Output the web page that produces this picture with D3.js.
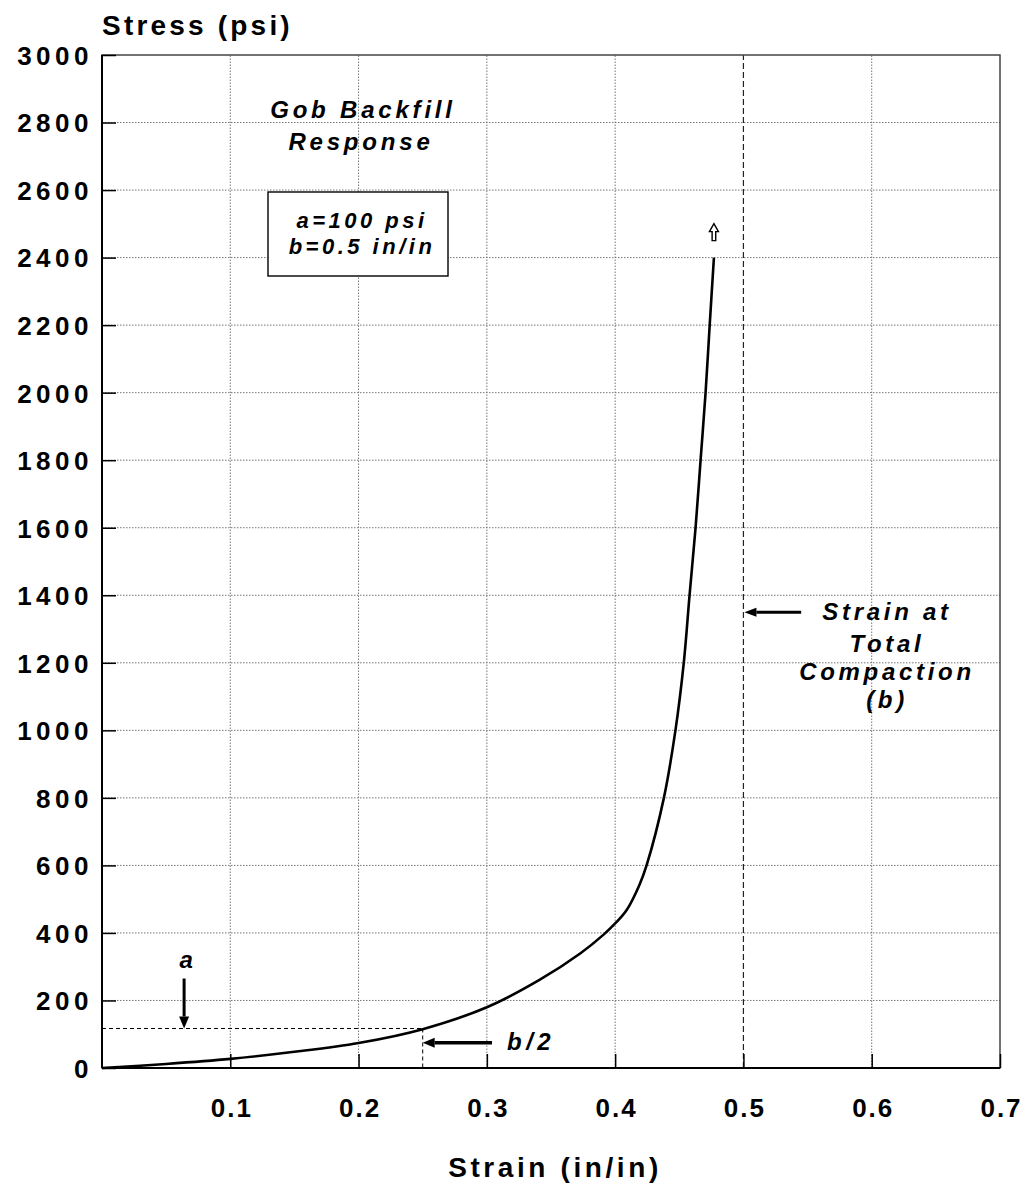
<!DOCTYPE html>
<html>
<head>
<meta charset="utf-8">
<script src="https://cdn.jsdelivr.net/npm/d3@7"></script>
<style>
  html, body { margin: 0; padding: 0; background: #fff; }
  svg { display: block; }
  .lbl { font-family: "Liberation Sans", Arial, sans-serif; font-weight: bold; fill: #000; }
  .note { font-family: "Liberation Sans", Arial, sans-serif; font-weight: bold; font-style: italic; fill: #000; }
</style>
</head>
<body>
<script>
// Gob backfill stress-strain response
const strain = [0, 0.05, 0.1, 0.15, 0.2, 0.25, 0.3, 0.341, 0.373, 0.391, 0.4, 0.409, 0.419, 0.4245, 0.438, 0.447, 0.4535, 0.458, 0.4627, 0.4666, 0.4705, 0.4737, 0.477];
const stress = [0, 12, 27, 48, 74, 115, 180, 261, 340, 395, 428, 468, 543, 600, 800, 1000, 1200, 1400, 1600, 1800, 2000, 2200, 2400];

const xTicks = [0.1, 0.2, 0.3, 0.4, 0.5, 0.6, 0.7];
const yTicks = [0, 200, 400, 600, 800, 1000, 1200, 1400, 1600, 1800, 2000, 2200, 2400, 2600, 2800, 3000];

// model parameters and reference levels
const paramA = 100;        // psi
const paramB = 0.5;        // in/in, strain at total compaction
const halfB = 0.25;        // b/2
const levelAtHalfB = 117;  // stress on the curve at b/2

const W = 1027, H = 1188;
const svg = d3.select("body").append("svg").attr("width", W).attr("height", H);

const x = d3.scaleLinear().domain([0, 0.7]).range([102, 1000]);
const y = d3.scaleLinear().domain([0, 3000]).range([1068, 55]);

// grid
const grid = svg.append("g");
grid.selectAll("line.gx").data(xTicks.filter(d => d < 0.7 && d !== paramB)).join("line")
  .attr("x1", d => x(d)).attr("x2", d => x(d)).attr("y1", y(0)).attr("y2", y(3000))
  .attr("stroke", "#777").attr("stroke-width", 1).attr("stroke-dasharray", "1.5,1.5");
grid.selectAll("line.gy").data(yTicks.filter(d => d > 0 && d < 3000)).join("line")
  .attr("x1", x(0)).attr("x2", x(0.7)).attr("y1", d => y(d)).attr("y2", d => y(d))
  .attr("stroke", "#777").attr("stroke-width", 1).attr("stroke-dasharray", "1.5,1.5");

// total compaction line
svg.append("line")
  .attr("x1", x(paramB)).attr("x2", x(paramB)).attr("y1", y(0)).attr("y2", y(3000))
  .attr("stroke", "#222").attr("stroke-width", 1.2).attr("stroke-dasharray", "6,3");

// frame
svg.append("rect").attr("x", x(0)).attr("y", y(3000))
  .attr("width", x(0.7) - x(0)).attr("height", y(0) - y(3000))
  .attr("fill", "none").attr("stroke", "#444").attr("stroke-width", 1.5);
svg.append("line").attr("x1", x(0)).attr("x2", x(0)).attr("y1", y(0)).attr("y2", y(3000))
  .attr("stroke", "#000").attr("stroke-width", 2);
svg.append("line").attr("x1", x(0)).attr("x2", x(0.7)).attr("y1", y(0)).attr("y2", y(0))
  .attr("stroke", "#000").attr("stroke-width", 2);

// axes (ticks pointing inward)
const yAxis = d3.axisLeft(y).tickValues(yTicks).tickSize(-14).tickFormat(d3.format("d"));
const gy = svg.append("g").attr("transform", `translate(${x(0)},0)`).call(yAxis);
gy.select(".domain").remove();
gy.selectAll(".tick line").attr("stroke", "#000").attr("stroke-width", 1.5);
gy.selectAll(".tick text").attr("class", "lbl").attr("font-size", 26)
  .attr("letter-spacing", 4.5).attr("dy", "0.36em").attr("x", -9);

const xAxis = d3.axisBottom(x).tickValues(xTicks).tickSize(-14).tickFormat(d3.format(".1f"));
const gx = svg.append("g").attr("transform", `translate(0,${y(0)})`).call(xAxis);
gx.select(".domain").remove();
gx.selectAll(".tick line").attr("stroke", "#000").attr("stroke-width", 1.5);
gx.selectAll(".tick text").attr("class", "lbl").attr("font-size", 26)
  .attr("letter-spacing", 2).attr("y", 49).attr("dy", 0).attr("dx", 1);

// axis titles
svg.append("text").attr("class", "lbl").attr("x", 102).attr("y", 35)
  .attr("font-size", 28).attr("letter-spacing", 3.2).text("Stress (psi)");
svg.append("text").attr("class", "lbl").attr("x", 555).attr("y", 1177)
  .attr("text-anchor", "middle").attr("font-size", 28).attr("letter-spacing", 3.6).text("Strain (in/in)");

// reference guides at b/2
const guide = svg.append("g").attr("stroke", "#000").attr("stroke-width", 1).attr("stroke-dasharray", "4,3").attr("fill", "none");
guide.append("line").attr("x1", x(0)).attr("x2", x(halfB)).attr("y1", y(levelAtHalfB)).attr("y2", y(levelAtHalfB));
guide.append("line").attr("x1", x(halfB)).attr("x2", x(halfB)).attr("y1", y(levelAtHalfB)).attr("y2", y(0));

// response curve
const line = d3.line().x(d => x(d[0])).y(d => y(d[1])).curve(d3.curveCatmullRom.alpha(0.5));
svg.append("path").datum(strain.map((s, i) => [s, stress[i]]))
  .attr("d", line).attr("fill", "none").attr("stroke", "#000").attr("stroke-width", 2.6);

// filled arrow helper: shaft from (x1,y1) to tip (x2,y2)
function arrow(x1, y1, x2, y2, head = 12, half = 5, w = 3.5) {
  const ang = Math.atan2(y2 - y1, x2 - x1);
  const bx = x2 - head * Math.cos(ang), by = y2 - head * Math.sin(ang);
  svg.append("line").attr("x1", x1).attr("y1", y1).attr("x2", bx).attr("y2", by)
    .attr("stroke", "#000").attr("stroke-width", w);
  const px = -Math.sin(ang) * half, py = Math.cos(ang) * half;
  svg.append("path")
    .attr("d", `M${x2},${y2}L${bx + px},${by + py}L${bx - px},${by - py}Z`)
    .attr("fill", "#000");
}

// "a" marker
const aX = x(0.064);
arrow(aX, y(265), aX, y(levelAtHalfB), 12, 5, 3);
svg.append("text").attr("class", "note").attr("x", aX + 2).attr("y", 968)
  .attr("text-anchor", "middle").attr("font-size", 24).text("a");

// "b/2" marker
arrow(x(0.304), y(75), x(halfB), y(75), 12, 5, 3.5);
svg.append("text").attr("class", "note").attr("x", 507).attr("y", 1050)
  .attr("font-size", 24).attr("letter-spacing", 4.5).text("b/2");

// total compaction marker
arrow(x(0.545), y(1350), x(paramB) + 1, y(1350), 12, 4.5, 3);
const tc = svg.append("text").attr("class", "note").attr("text-anchor", "middle")
  .attr("font-size", 24).attr("letter-spacing", 3.7);
[["Strain at", 620], ["Total", 652], ["Compaction", 680], ["(b)", 708]].forEach(([t, yy]) => {
  tc.append("tspan").attr("x", 887).attr("y", yy).text(t);
});

// open arrow above the curve end
const ex = x(strain[strain.length - 1]), ey = y(stress[stress.length - 1]);
svg.append("path")
  .attr("d", `M${ex},${ey - 34} L${ex + 4.5},${ey - 26} L${ex + 1.8},${ey - 26} L${ex + 1.8},${ey - 17} L${ex - 1.8},${ey - 17} L${ex - 1.8},${ey - 26} L${ex - 4.5},${ey - 26} Z`)
  .attr("fill", "#fff").attr("stroke", "#000").attr("stroke-width", 1.4);

// title
const tt = svg.append("text").attr("class", "note").attr("text-anchor", "middle")
  .attr("font-size", 24).attr("letter-spacing", 3.8);
tt.append("tspan").attr("x", 363).attr("y", 118).text("Gob Backfill");
tt.append("tspan").attr("x", 361).attr("y", 150).text("Response");

// parameter box
svg.append("rect").attr("x", 268).attr("y", 192).attr("width", 180).attr("height", 84)
  .attr("fill", "#fff").attr("stroke", "#000").attr("stroke-width", 1.4);
const pb = svg.append("text").attr("class", "note").attr("text-anchor", "middle")
  .attr("font-size", 22).attr("letter-spacing", 3.5);
pb.append("tspan").attr("x", 362).attr("y", 228).text(`a=${paramA} psi`);
pb.append("tspan").attr("x", 362).attr("y", 254).text(`b=${paramB} in/in`);
</script>
</body>
</html>
